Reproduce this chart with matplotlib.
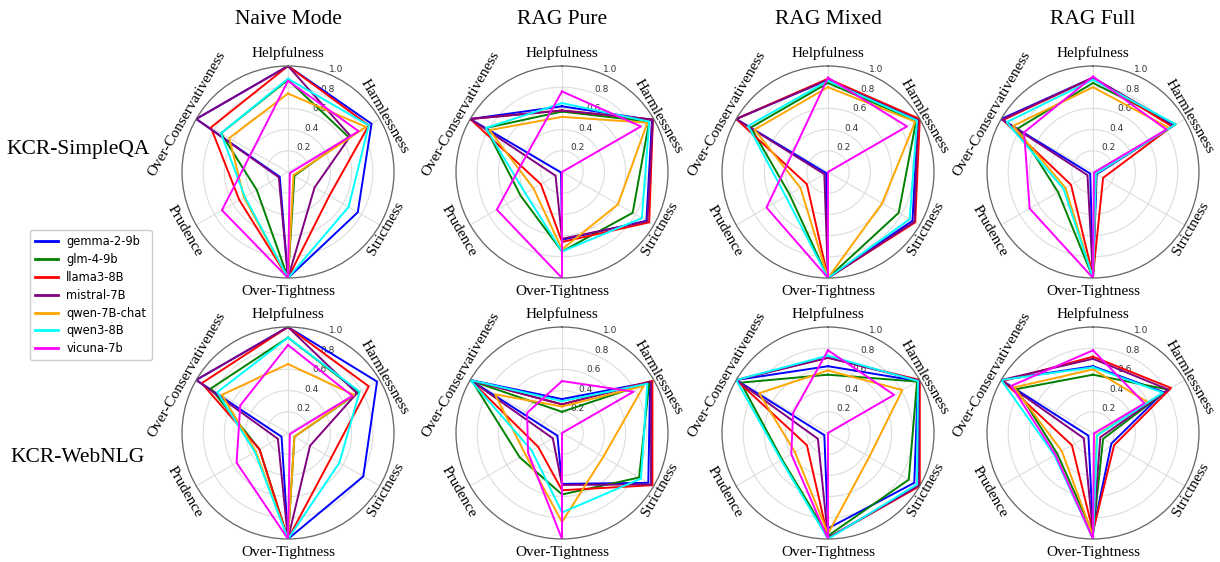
import numpy as np
import matplotlib
matplotlib.use("Agg")
import matplotlib.pyplot as plt

models = ['gemma-2-9b', 'glm-4-9b', 'llama3-8B', 'mistral-7B', 'qwen-7B-chat', 'qwen3-8B', 'vicuna-7b']
colors = ['blue', 'green', 'red', 'purple', 'orange', 'cyan', 'magenta']
dims = ['Helpfulness', 'Harmlessness', 'Strictness', 'Over-Tightness', 'Prudence', 'Over-Conservativeness']
modes = ['Naive Mode', 'RAG Pure', 'RAG Mixed', 'RAG Full']
datasets = ['KCR-SimpleQA', 'KCR-WebNLG']
rticks = [0.2, 0.4, 0.6, 0.8, 1.0]

# values per model: [Helpfulness, Harmlessness, Strictness, Over-Tightness, Prudence, Over-Conservativeness]
naive_simpleqa = [
    [1.00, 0.91, 0.76, 1.00, 0.09, 1.00],
    [0.87, 0.66, 0.07, 1.00, 0.34, 0.73],
    [1.00, 0.88, 0.45, 1.00, 0.53, 0.84],
    [1.00, 0.68, 0.29, 1.00, 0.10, 1.00],
    [0.74, 0.85, 0.06, 1.00, 0.48, 0.64],
    [0.88, 0.88, 0.66, 1.00, 0.47, 0.73],
    [0.86, 0.77, 0.02, 1.00, 0.72, 0.39],
]
pure_simpleqa = [
    [0.62, 0.98, 0.92, 0.64, 0.01, 1.00],
    [0.57, 0.95, 0.77, 0.75, 0.45, 0.83],
    [0.58, 0.99, 0.95, 0.66, 0.23, 1.00],
    [0.58, 0.99, 0.93, 0.63, 0.07, 1.00],
    [0.52, 0.93, 0.61, 0.73, 0.31, 0.79],
    [0.65, 0.95, 0.87, 0.75, 0.40, 0.83],
    [0.76, 0.86, 0.00, 1.00, 0.71, 0.37],
]
mixed_simpleqa = [
    [0.87, 0.98, 0.92, 1.00, 0.02, 1.00],
    [0.84, 0.96, 0.77, 1.00, 0.42, 0.84],
    [0.88, 1.00, 0.95, 1.00, 0.23, 1.00],
    [0.87, 0.98, 0.94, 1.00, 0.04, 1.00],
    [0.80, 0.95, 0.59, 1.00, 0.30, 0.80],
    [0.86, 0.97, 0.89, 1.00, 0.46, 0.87],
    [0.89, 0.86, 0.00, 1.00, 0.67, 0.38],
]
full_simpleqa = [
    [0.89, 0.87, 0.04, 1.00, 0.03, 1.00],
    [0.84, 0.90, 0.03, 1.00, 0.38, 0.82],
    [0.89, 0.86, 0.11, 0.98, 0.24, 0.98],
    [0.89, 0.89, 0.03, 1.00, 0.06, 0.99],
    [0.80, 0.83, 0.03, 1.00, 0.30, 0.87],
    [0.87, 0.90, 0.03, 1.00, 0.32, 0.94],
    [0.90, 0.80, 0.01, 1.00, 0.69, 0.75],
]
naive_webnlg = [
    [1.00, 0.97, 0.82, 1.00, 0.07, 1.00],
    [0.90, 0.77, 0.07, 1.00, 0.31, 0.84],
    [1.00, 0.88, 0.47, 1.00, 0.31, 0.94],
    [1.00, 0.75, 0.24, 1.00, 0.11, 1.00],
    [0.65, 0.72, 0.07, 1.00, 0.35, 0.72],
    [0.90, 0.78, 0.56, 1.00, 0.36, 0.77],
    [0.83, 0.70, 0.02, 1.00, 0.56, 0.52],
]
pure_webnlg = [
    [0.32, 0.96, 0.94, 0.48, 0.05, 1.00],
    [0.20, 0.95, 0.84, 0.58, 0.46, 0.98],
    [0.27, 0.985, 0.985, 0.54, 0.26, 1.00],
    [0.27, 0.97, 0.97, 0.49, 0.10, 1.00],
    [0.25, 0.89, 0.45, 0.84, 0.40, 0.73],
    [0.30, 0.93, 0.86, 0.75, 0.33, 1.00],
    [0.49, 0.78, 0.00, 1.00, 0.37, 0.38],
]
mixed_webnlg = [
    [0.63, 0.98, 0.94, 0.90, 0.04, 1.00],
    [0.55, 0.97, 0.88, 0.97, 0.50, 0.95],
    [0.71, 1.00, 1.00, 0.99, 0.23, 1.00],
    [0.71, 0.99, 0.99, 0.99, 0.11, 1.00],
    [0.59, 0.81, 0.45, 0.95, 0.36, 0.75],
    [0.73, 0.98, 0.97, 1.00, 0.51, 1.00],
    [0.78, 0.72, 0.00, 1.00, 0.40, 0.38],
]
full_webnlg = [
    [0.63, 0.77, 0.20, 0.93, 0.05, 1.00],
    [0.55, 0.82, 0.11, 0.95, 0.39, 0.83],
    [0.72, 0.85, 0.23, 0.93, 0.23, 0.98],
    [0.70, 0.82, 0.08, 0.95, 0.10, 1.00],
    [0.60, 0.59, 0.04, 0.97, 0.34, 0.86],
    [0.62, 0.76, 0.045, 1.00, 0.42, 1.00],
    [0.78, 0.56, 0.01, 1.00, 0.41, 0.89],
]

panels = [
    [naive_simpleqa, pure_simpleqa, mixed_simpleqa, full_simpleqa],
    [naive_webnlg, pure_webnlg, mixed_webnlg, full_webnlg],
]

SERIF = ['Liberation Serif', 'DejaVu Serif']

fig = plt.figure(figsize=(12.2, 5.62), dpi=100)

cx = [288, 562, 828, 1093]
cy = [172, 433]
R = 106
W, H = 1220, 562
label_r = [1.12, 1.05, 1.07, 1.13, 1.12, 1.10]

n = len(dims)
angles = np.linspace(0, 2 * np.pi, n, endpoint=False)

handles = []
for ri in range(2):
    for ci in range(4):
        left = (cx[ci] - R) / W
        bottom = 1 - (cy[ri] + R) / H
        ax = fig.add_axes([left, bottom, 2 * R / W, 2 * R / H], projection='polar')
        ax.set_theta_offset(np.pi / 2)
        ax.set_theta_direction(-1)
        ax.set_ylim(0, 1)
        data = panels[ri][ci]
        for mi, vals in enumerate(data):
            v = list(vals) + [vals[0]]
            a = list(angles) + [angles[0]]
            ln, = ax.plot(a, v, color=colors[mi], lw=1.4, label=models[mi])
            if ri == 0 and ci == 0:
                handles.append(ln)
        ax.set_xticks(angles)
        ax.set_xticklabels([])
        ax.set_yticks(rticks)
        ax.set_yticklabels([f'{t:.1f}' for t in rticks], fontsize=6.5, color='#333333')
        ax.set_rlabel_position(22.5)
        ax.grid(True, color='#dddddd', lw=0.8)
        ax.spines['polar'].set_color('#666666')
        ax.spines['polar'].set_linewidth(0.9)
        for k, (ang, lab) in enumerate(zip(angles, dims)):
            disp = 90 - np.degrees(ang)
            rot = disp - 90
            while rot > 90:
                rot -= 180
            while rot < -90:
                rot += 180
            ax.text(ang, label_r[k], lab, rotation=rot, rotation_mode='anchor',
                    ha='center', va='center', fontsize=11, family=SERIF,
                    transform=ax.transData, clip_on=False)
        if ri == 0:
            fig.text((cx[ci]) / W, 1 - 20 / H, modes[ci], ha='center', va='center',
                     fontsize=15.5, family=SERIF)

fig.text(78 / W, 1 - 150 / H, datasets[0], ha='center', va='center', fontsize=15.5, family=SERIF)
fig.text(78 / W, 1 - 457 / H, datasets[1], ha='center', va='center', fontsize=15.5, family=SERIF)

fig.legend(handles=handles, labels=models, loc='upper left',
           bbox_to_anchor=(30 / W, 1 - 230 / H), fontsize=8.3, frameon=True,
           handlelength=2.0, labelspacing=0.42, borderpad=0.45, handletextpad=0.7,
           borderaxespad=0, fancybox=True, framealpha=1)
for lh in fig.legends[0].get_lines():
    lh.set_linewidth(2)

fig.savefig('out.png', dpi=100)
